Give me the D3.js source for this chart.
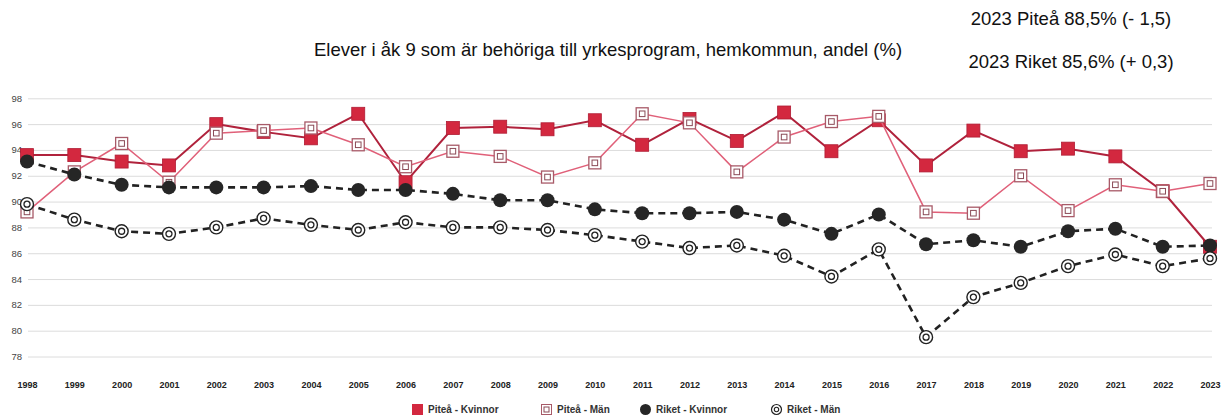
<!DOCTYPE html>
<html>
<head>
<meta charset="utf-8">
<script src="https://cdn.jsdelivr.net/npm/d3@7"></script>
<style>
  body { margin: 0; background: #fff; }
  svg { display: block; font-family: "Liberation Sans", Arial, sans-serif; }
</style>
</head>
<body>
<svg id="chart" width="1227" height="420"></svg>
<script>
const years = ["1998","1999","2000","2001","2002","2003","2004","2005","2006","2007","2008","2009","2010",
  "2011","2012","2013","2014","2015","2016","2017","2018","2019","2020","2021","2022","2023"];

const piteaKvinnor = [93.6,93.6,93.1,92.8,96.0,95.4,94.9,96.8,91.5,95.7,95.8,95.6,96.3,
  94.4,96.4,94.7,96.9,93.9,96.3,92.8,95.5,93.9,94.1,93.5,90.8,86.5];
const piteaMan = [89.2,92.3,94.5,91.5,95.3,95.5,95.7,94.4,92.7,93.9,93.5,91.9,93.0,
  96.8,96.1,92.3,95.0,96.2,96.6,89.2,89.1,92.0,89.3,91.3,90.8,91.4];
const riketKvinnor = [93.1,92.1,91.3,91.1,91.1,91.1,91.2,90.9,90.9,90.6,90.1,90.1,89.4,
  89.1,89.1,89.2,88.6,87.5,89.0,86.7,87.0,86.5,87.7,87.9,86.5,86.6];
const riketMan = [89.8,88.6,87.7,87.5,88.0,88.7,88.2,87.8,88.4,88.0,88.0,87.8,87.4,
  86.9,86.4,86.6,85.8,84.2,86.3,79.5,82.6,83.7,85.0,85.9,85.0,85.6];

const yTicks = [78,80,82,84,86,88,90,92,94,96,98];
const seriesNames = ["Piteå - Kvinnor", "Piteå - Män", "Riket - Kvinnor", "Riket - Män"];

const title = "Elever i åk 9 som är behöriga till yrkesprogram, hemkommun, andel (%)";
const notePitea = "2023 Piteå 88,5% (- 1,5)";
const noteRiket = "2023 Riket 85,6% (+ 0,3)";

const svg = d3.select("#chart");

const x = d3.scalePoint().domain(years).range([27, 1210]);
const y = d3.scaleLinear().domain([78, 98]).range([356.5, 98.3]);

// Titles
svg.append("text")
  .attr("x", 608).attr("y", 56)
  .attr("text-anchor", "middle")
  .style("font-size", "18.5px")
  .style("fill", "#111")
  .text(title);

svg.append("text")
  .attr("x", 1071).attr("y", 25)
  .attr("text-anchor", "middle")
  .style("font-size", "18.5px")
  .style("fill", "#111")
  .text(notePitea);

svg.append("text")
  .attr("x", 1071).attr("y", 68)
  .attr("text-anchor", "middle")
  .style("font-size", "18.5px")
  .style("fill", "#111")
  .text(noteRiket);

// Grid + y labels
const yAxis = svg.append("g")
  .attr("transform", "translate(28,0)")
  .call(d3.axisLeft(y).tickValues(yTicks).tickSize(-(1212 - 28)).tickPadding(6));
yAxis.select(".domain").remove();
yAxis.selectAll("line").attr("stroke", "#dcdcdc");
yAxis.selectAll("text")
  .style("font-size", "9.5px")
  .style("fill", "#444");

// x labels
const xAxis = svg.append("g")
  .attr("transform", "translate(0,376)")
  .call(d3.axisBottom(x).tickSize(0).tickPadding(6));
xAxis.select(".domain").remove();
xAxis.selectAll("text")
  .style("font-size", "9px")
  .style("font-weight", "bold")
  .style("fill", "#222");

const line = d3.line().x((d, i) => x(years[i])).y(d => y(d));

// Piteå - Kvinnor
svg.append("path").datum(piteaKvinnor)
  .attr("d", line).attr("fill", "none")
  .attr("stroke", "#b0223c").attr("stroke-width", 2);
svg.append("g").selectAll("rect").data(piteaKvinnor).join("rect")
  .attr("x", (d, i) => x(years[i]) - 6.5)
  .attr("y", d => y(d) - 6.5)
  .attr("width", 13).attr("height", 13)
  .attr("fill", "#d3283f").attr("stroke", "#b01c34").attr("stroke-width", 0.8);

// Piteå - Män
svg.append("path").datum(piteaMan)
  .attr("d", line).attr("fill", "none")
  .attr("stroke", "#e06079").attr("stroke-width", 1.5);
const pm = svg.append("g").selectAll("g").data(piteaMan).join("g")
  .attr("transform", (d, i) => `translate(${x(years[i])},${y(d)})`);
pm.append("rect")
  .attr("x", -6).attr("y", -6).attr("width", 12).attr("height", 12)
  .attr("fill", "#fff").attr("stroke", "#a85a68").attr("stroke-width", 1.3);
pm.append("rect")
  .attr("x", -2.8).attr("y", -2.8).attr("width", 5.6).attr("height", 5.6)
  .attr("fill", "none").attr("stroke", "#8a4a56").attr("stroke-width", 1);

// Riket - Kvinnor
svg.append("path").datum(riketKvinnor)
  .attr("d", line).attr("fill", "none")
  .attr("stroke", "#222").attr("stroke-width", 2.6)
  .attr("stroke-dasharray", "7,5");
svg.append("g").selectAll("circle").data(riketKvinnor).join("circle")
  .attr("cx", (d, i) => x(years[i])).attr("cy", d => y(d))
  .attr("r", 7).attr("fill", "#262626");

// Riket - Män
svg.append("path").datum(riketMan)
  .attr("d", line).attr("fill", "none")
  .attr("stroke", "#222").attr("stroke-width", 2.6)
  .attr("stroke-dasharray", "7,5");
const rm = svg.append("g").selectAll("g").data(riketMan).join("g")
  .attr("transform", (d, i) => `translate(${x(years[i])},${y(d)})`);
rm.append("circle").attr("r", 6.5).attr("fill", "#fff").attr("stroke", "#222").attr("stroke-width", 1.4);
rm.append("circle").attr("r", 3).attr("fill", "none").attr("stroke", "#222").attr("stroke-width", 1.3);

// Legend
const legendX = [412, 541, 640, 771];
const lg = svg.append("g").selectAll("g").data(seriesNames).join("g")
  .attr("transform", (d, i) => `translate(${legendX[i]},409)`);
lg.filter((d, i) => i === 0).append("rect")
  .attr("x", 0).attr("y", -5).attr("width", 11).attr("height", 11)
  .attr("fill", "#d3283f");
lg.filter((d, i) => i === 1).append("rect")
  .attr("x", 0.5).attr("y", -4.5).attr("width", 10).attr("height", 10)
  .attr("fill", "#fff").attr("stroke", "#a85a68");
lg.filter((d, i) => i === 1).append("rect")
  .attr("x", 3).attr("y", -2).attr("width", 5).attr("height", 5)
  .attr("fill", "none").attr("stroke", "#8a4a56");
lg.filter((d, i) => i === 2).append("circle")
  .attr("cx", 5.5).attr("cy", 0.5).attr("r", 5.5).attr("fill", "#262626");
lg.filter((d, i) => i === 3).append("circle")
  .attr("cx", 5.5).attr("cy", 0.5).attr("r", 5).attr("fill", "#fff").attr("stroke", "#222").attr("stroke-width", 1.2);
lg.filter((d, i) => i === 3).append("circle")
  .attr("cx", 5.5).attr("cy", 0.5).attr("r", 2.2).attr("fill", "none").attr("stroke", "#222").attr("stroke-width", 1.1);
lg.append("text")
  .attr("x", 16).attr("y", 4)
  .style("font-size", "10px")
  .style("font-weight", "bold")
  .style("fill", "#333")
  .text(d => d);
</script>
</body>
</html>
